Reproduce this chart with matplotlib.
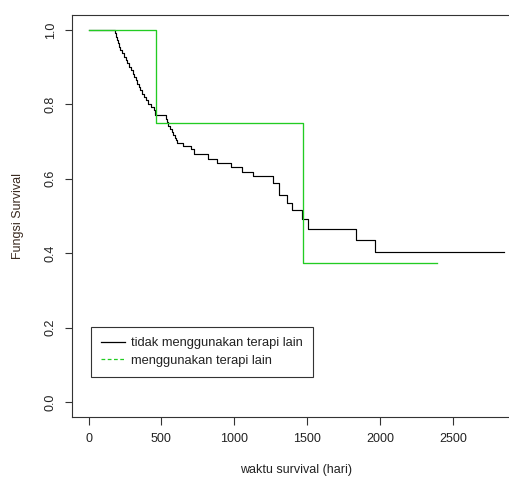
import matplotlib.pyplot as plt
from matplotlib.lines import Line2D

plt.rcParams['font.family'] = ['Liberation Sans', 'DejaVu Sans']

# Kaplan-Meier estimates: time of each drop (days) and survival after it
waktu_tidak = [0, 182, 186, 195, 203, 210, 218, 232, 245, 256, 263, 275, 290,
               302, 312, 325, 334, 345, 355, 368, 378, 392, 405, 428, 446, 458,
               532, 540, 548, 562, 572, 580, 590, 600, 609, 650, 701, 724, 818,
               883, 974, 1051, 1130, 1263, 1309, 1359, 1394, 1462, 1508, 1833,
               1967, 2850]
surv_tidak = [1.0, 0.991, 0.982, 0.973, 0.964, 0.955, 0.946, 0.937, 0.928,
              0.919, 0.910, 0.901, 0.892, 0.883, 0.874, 0.865, 0.856, 0.847,
              0.838, 0.829, 0.820, 0.811, 0.802, 0.793, 0.784, 0.772,
              0.762, 0.752, 0.743, 0.735, 0.726, 0.718, 0.710, 0.703, 0.696,
              0.688, 0.679, 0.666, 0.654, 0.643, 0.632, 0.619, 0.607, 0.589,
              0.556, 0.536, 0.517, 0.491, 0.466, 0.435, 0.403, 0.403]

waktu_terapi = [0, 463, 1473, 2388]
surv_terapi = [1.0, 0.75, 0.375, 0.375]

label_tidak = 'tidak menggunakan terapi lain'
label_terapi = 'menggunakan terapi lain'

x_ticks = [0, 500, 1000, 1500, 2000, 2500]
y_ticks = [0.0, 0.2, 0.4, 0.6, 0.8, 1.0]

hijau = '#22CC22'
teks = '#222222'

W, H = 510, 478
fig = plt.figure(figsize=(W / 100, H / 100), dpi=100)
left, right, top, bottom = 71.9, 520.7, 15.1, 416.9
ax = fig.add_axes([left / W, 1 - bottom / H, (right - left) / W, (bottom - top) / H])

ax.step(waktu_tidak, surv_tidak, where='post', color='black', lw=0.85)
ax.step(waktu_terapi, surv_terapi, where='post', color=hijau, lw=0.95)

ax.set_xlim(-114, 2964)
ax.set_ylim(-0.04, 1.04)
ax.set_xticks(x_ticks)
ax.set_xticklabels([str(v) for v in x_ticks])
ax.set_yticks(y_ticks)
ax.set_yticklabels([f'{v:.1f}' for v in y_ticks], rotation=90, va='center')
ax.tick_params(axis='both', length=5.4, width=0.8, labelsize=9,
               colors='#333333', labelcolor=teks)
ax.tick_params(axis='x', pad=6.5)
ax.tick_params(axis='y', pad=5.5)
for s in ax.spines.values():
    s.set_linewidth(0.8)
    s.set_color('#333333')

fig.text(296 / W, 1 - 470 / H, 'waktu survival (hari)', ha='center', va='center',
         fontsize=9, color=teks)
fig.text(18 / W, 1 - 216 / H, 'Fungsi Survival', ha='center', va='center',
         rotation=90, fontsize=9, color='#3a2a20')

handles = [Line2D([], [], color='black', lw=0.9),
           Line2D([], [], color=hijau, lw=0.9, ls=(0, (3, 2)))]
leg = ax.legend(handles, [label_tidak, label_terapi], loc='upper left',
                bbox_to_anchor=(91 / W, 1 - 327 / H), bbox_transform=fig.transFigure,
                fancybox=False, edgecolor='#333333', framealpha=1, borderaxespad=0,
                fontsize=9.3, handlelength=1.8, handletextpad=0.5,
                borderpad=0.8, labelspacing=0.42)
leg.get_frame().set_linewidth(0.8)
for t in leg.get_texts():
    t.set_color(teks)

fig.savefig('out.png', dpi=100)
